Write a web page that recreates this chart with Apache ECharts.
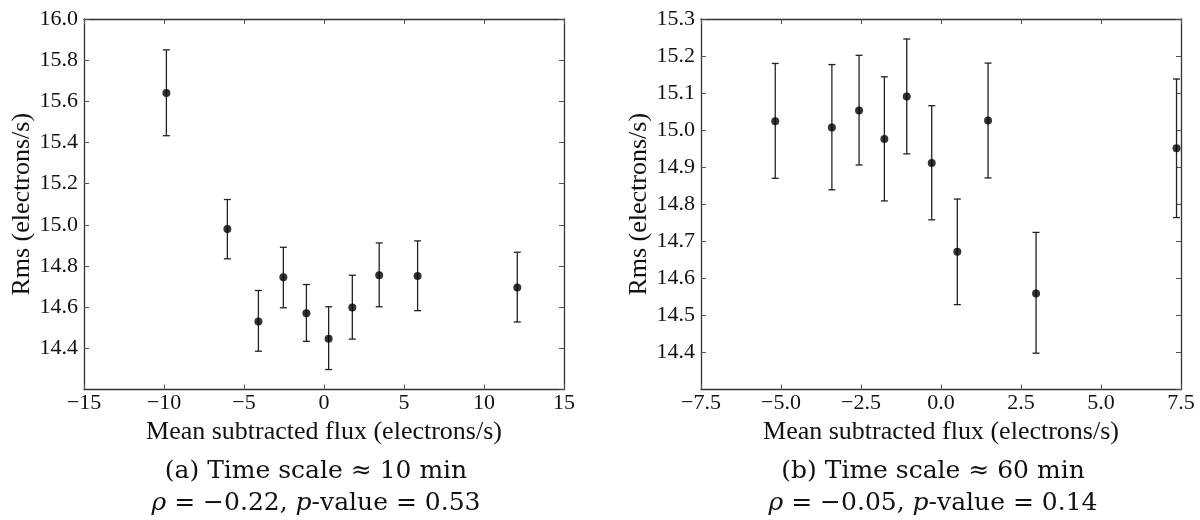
<!DOCTYPE html>
<html>
<head>
<meta charset="utf-8">
<script src="https://cdn.jsdelivr.net/npm/echarts@6/dist/echarts.min.js"></script>
<style>
html,body{margin:0;padding:0;background:#fff;}
#chart{width:1200px;height:520px;}
</style>
</head>
<body>
<div id="chart"></div>
<script>
// ---- data ----
var leftX  = [-9.85, -6.04, -4.10, -2.54, -1.10, 0.29, 1.77, 3.45, 5.85, 12.08];
var leftY  = [15.640, 14.980, 14.530, 14.745, 14.570, 14.447, 14.598, 14.755, 14.751, 14.695];
var leftLo = [15.433, 14.835, 14.386, 14.597, 14.434, 14.297, 14.445, 14.602, 14.583, 14.528];
var leftHi = [15.850, 15.123, 14.681, 14.891, 14.710, 14.602, 14.755, 14.912, 14.922, 14.867];

var rightX  = [-5.18, -3.41, -2.56, -1.77, -1.07, -0.29, 0.51, 1.47, 2.97, 7.36];
var rightY  = [15.024, 15.007, 15.053, 14.976, 15.091, 14.911, 14.672, 15.026, 14.559, 14.951];
var rightLo = [14.870, 14.839, 14.906, 14.809, 14.936, 14.758, 14.529, 14.871, 14.398, 14.764];
var rightHi = [15.180, 15.177, 15.202, 15.144, 15.246, 15.066, 14.814, 15.181, 14.724, 15.138];

var leftXTicks  = {min: -15, max: 15, interval: 5};
var leftYTicks  = {min: 14.2, max: 16.0, interval: 0.2};
var rightXTicks = {min: -7.5, max: 7.5, interval: 2.5};
var rightYTicks = {min: 14.3, max: 15.3, interval: 0.1};

var xName = 'Mean subtracted flux (electrons/s)';
var yName = 'Rms (electrons/s)';
var captionA1 = '(a) Time scale ≈ 10 min';
var captionA2 = '{i|ρ} = −0.22, {i|p}-value = 0.53';
var captionB1 = '(b) Time scale ≈ 60 min';
var captionB2 = '{i|ρ} = −0.05, {i|p}-value = 0.14';

// ---- build ----
var SERIF = 'Liberation Serif';
var CAPFONT = 'DejaVu Serif';
var axisColor = '#333';

function minusFmt(dec) {
  return function (v) {
    if (Math.abs(v) < 1e-9) v = 0;
    var s = dec ? Math.abs(v).toFixed(dec) : String(Math.abs(v));
    return v < 0 ? '\u2212' + s : s;
  };
}

function makeX(grid, t, dec, withName) {
  return {
    type: 'value', gridIndex: grid, position: 'bottom',
    min: t.min, max: t.max, interval: t.interval,
    name: withName ? xName : '', nameLocation: 'middle', nameGap: 24,
    nameTextStyle: {fontFamily: SERIF, fontSize: 26, color: '#111'},
    axisLine: {show: true, onZero: false, lineStyle: {color: axisColor, width: 1.3}},
    axisTick: {show: true, inside: true, length: 5, lineStyle: {color: '#555'}},
    axisLabel: {show: true, margin: 3, fontFamily: SERIF, fontSize: 22, color: '#111',
      formatter: minusFmt(dec)},
    splitLine: {show: false}
  };
}
function makeXTop(grid, t) {
  return {
    type: 'value', gridIndex: grid, position: 'top',
    min: t.min, max: t.max, interval: t.interval,
    axisLine: {show: true, onZero: false, lineStyle: {color: axisColor, width: 1.3}},
    axisTick: {show: true, inside: true, length: 5, lineStyle: {color: '#555'}},
    axisLabel: {show: false}, splitLine: {show: false}
  };
}
function makeY(grid, t) {
  return {
    type: 'value', gridIndex: grid, position: 'left',
    min: t.min, max: t.max, interval: t.interval,
    name: yName, nameLocation: 'middle', nameGap: 48, nameRotate: 90,
    nameTextStyle: {fontFamily: SERIF, fontSize: 26, color: '#111'},
    axisLine: {show: true, onZero: false, lineStyle: {color: axisColor, width: 1.3}},
    axisTick: {show: true, inside: true, length: 5, lineStyle: {color: '#555'}},
    axisLabel: {show: true, margin: 6, showMinLabel: false, fontFamily: SERIF, fontSize: 22, color: '#111',
      formatter: function (v) { return v.toFixed(1); }},
    splitLine: {show: false}
  };
}
function makeYRight(grid, t) {
  return {
    type: 'value', gridIndex: grid, position: 'right',
    min: t.min, max: t.max, interval: t.interval,
    axisLine: {show: true, onZero: false, lineStyle: {color: axisColor, width: 1.3}},
    axisTick: {show: true, inside: true, length: 5, lineStyle: {color: '#555'}},
    axisLabel: {show: false}, splitLine: {show: false}
  };
}

function zip(xs, ys, los, his) {
  return xs.map(function (x, i) { return [x, ys[i], los[i], his[i]]; });
}

function errorRender(params, api) {
  var x = api.value(0), lo = api.value(2), hi = api.value(3);
  var pLo = api.coord([x, lo]);
  var pHi = api.coord([x, hi]);
  var cap = 3.5;
  var st = {stroke: '#222', lineWidth: 1.3};
  return {
    type: 'group',
    children: [
      {type: 'line', shape: {x1: pLo[0], y1: pLo[1], x2: pHi[0], y2: pHi[1]}, style: st},
      {type: 'line', shape: {x1: pLo[0] - cap, y1: pLo[1], x2: pLo[0] + cap, y2: pLo[1]}, style: st},
      {type: 'line', shape: {x1: pHi[0] - cap, y1: pHi[1], x2: pHi[0] + cap, y2: pHi[1]}, style: st}
    ]
  };
}

var leftData = zip(leftX, leftY, leftLo, leftHi);
var rightData = zip(rightX, rightY, rightLo, rightHi);

function caption(x, y, text, size) {
  return {
    type: 'text', x: x, y: y,
    style: {
      text: text, align: 'center', verticalAlign: 'middle',
      textAlign: 'center', textVerticalAlign: 'middle',
      fontFamily: CAPFONT, fontSize: size, fill: '#111',
      rich: {i: {fontFamily: CAPFONT, fontStyle: 'italic', fontSize: size, fill: '#111'}}
    }
  };
}

var option = {
  backgroundColor: '#fff',
  animation: false,
  textStyle: {fontFamily: SERIF},
  grid: [
    {left: 84, top: 19, width: 480, height: 370.5},
    {left: 701, top: 19, width: 480, height: 370.5}
  ],
  xAxis: [
    makeX(0, leftXTicks, 0, true),
    makeX(1, rightXTicks, 1, true),
    makeXTop(0, leftXTicks),
    makeXTop(1, rightXTicks)
  ],
  yAxis: [
    makeY(0, leftYTicks),
    makeY(1, rightYTicks),
    makeYRight(0, leftYTicks),
    makeYRight(1, rightYTicks)
  ],
  series: [
    {type: 'custom', xAxisIndex: 0, yAxisIndex: 0, data: leftData, renderItem: errorRender, encode: {x: 0, y: [1, 2, 3]}, silent: true},
    {type: 'custom', xAxisIndex: 1, yAxisIndex: 1, data: rightData, renderItem: errorRender, encode: {x: 0, y: [1, 2, 3]}, silent: true},
    {type: 'scatter', xAxisIndex: 0, yAxisIndex: 0, symbol: 'circle', symbolSize: 8, itemStyle: {color: '#000'},
      data: leftX.map(function (x, i) { return [x, leftY[i]]; }), z: 5},
    {type: 'scatter', xAxisIndex: 1, yAxisIndex: 1, symbol: 'circle', symbolSize: 8, itemStyle: {color: '#000'},
      data: rightX.map(function (x, i) { return [x, rightY[i]]; }), z: 5}
  ],
  graphic: [
    caption(316, 471, captionA1, 25),
    caption(316, 503, captionA2, 25),
    caption(933, 471, captionB1, 25),
    caption(933, 503, captionB2, 25)
  ]
};

var chart = echarts.init(document.getElementById('chart'), null, {renderer: 'canvas'});
chart.setOption(option);
</script>
</body>
</html>
